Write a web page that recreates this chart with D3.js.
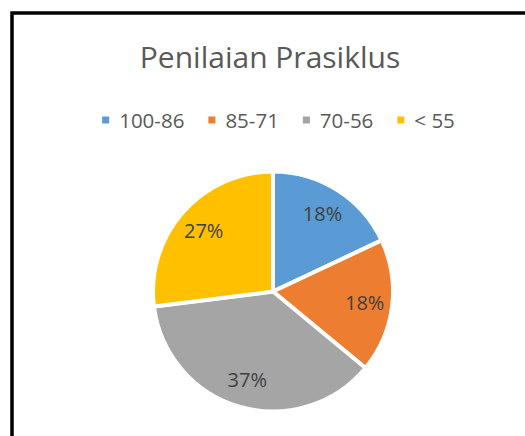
<!DOCTYPE html>
<html>
<head>
<meta charset="utf-8">
<script src="https://cdn.jsdelivr.net/npm/d3@7"></script>
<style>
  html, body { margin: 0; padding: 0; background: #fff; }
  svg { display: block; }
</style>
</head>
<body>
<div id="chart"></div>
<script>
// --- data ---
const categories = ["100-86", "85-71", "70-56", "< 55"];
const values     = [18, 18, 37, 27];
const labels     = ["18%", "18%", "37%", "27%"];
const colors     = ["#5B9BD5", "#ED7D31", "#A5A5A5", "#FFC000"];
const titleText  = "Penilaian Prasiklus";

const W = 525, H = 436;
const font = "'Open Sans', 'Noto Sans', sans-serif";

const svg = d3.select("#chart").append("svg")
    .attr("width", W)
    .attr("height", H);

// chart area border (cut off at right and bottom)
svg.append("rect")
    .attr("x", 12).attr("y", 13)
    .attr("width", W + 20).attr("height", H + 20)
    .attr("fill", "#fff")
    .attr("stroke", "#000")
    .attr("stroke-width", 3.5);

// title
svg.append("text")
    .attr("x", 270)
    .attr("y", 68)
    .attr("text-anchor", "middle")
    .style("font-family", font)
    .style("font-size", "30px")
    .style("fill", "#595959")
    .text(titleText);

// legend
const legend = svg.append("g");
let lx = 0;
categories.forEach((c, i) => {
    const g = legend.append("g").attr("transform", `translate(${lx},0)`);
    g.append("rect")
        .attr("x", 0).attr("y", -3.5)
        .attr("width", 7).attr("height", 7)
        .attr("fill", colors[i]);
    const t = g.append("text")
        .attr("x", 17)
        .attr("y", 7.5)
        .style("font-family", font)
        .style("font-size", "20.5px")
        .style("fill", "#595959")
        .text(c);
    lx += 17 + t.node().getComputedTextLength() + 24;
});
const legendW = lx - 24;
legend.attr("transform", `translate(${278.5 - legendW / 2},120)`);

// pie
const cx = 273, cy = 291.5, r = 120;
const pie = d3.pie().sort(null).value(d => d)(values);
const arc = d3.arc().innerRadius(0).outerRadius(r);
const labelArc = d3.arc().innerRadius(r * 0.77).outerRadius(r * 0.77);

const pg = svg.append("g").attr("transform", `translate(${cx},${cy})`);

pg.selectAll("path.slice")
    .data(pie)
    .enter()
    .append("path")
    .attr("class", "slice")
    .attr("d", arc)
    .attr("fill", (d, i) => colors[i])
    .attr("stroke", "#fff")
    .attr("stroke-width", 4)
    .attr("stroke-linejoin", "round");

pg.selectAll("text.lbl")
    .data(pie)
    .enter()
    .append("text")
    .attr("class", "lbl")
    .attr("transform", d => `translate(${labelArc.centroid(d)})`)
    .attr("text-anchor", "middle")
    .attr("dy", "0.36em")
    .style("font-family", font)
    .style("font-size", "20px")
    .style("fill", "#404040")
    .text((d, i) => labels[i]);
</script>
</body>
</html>
